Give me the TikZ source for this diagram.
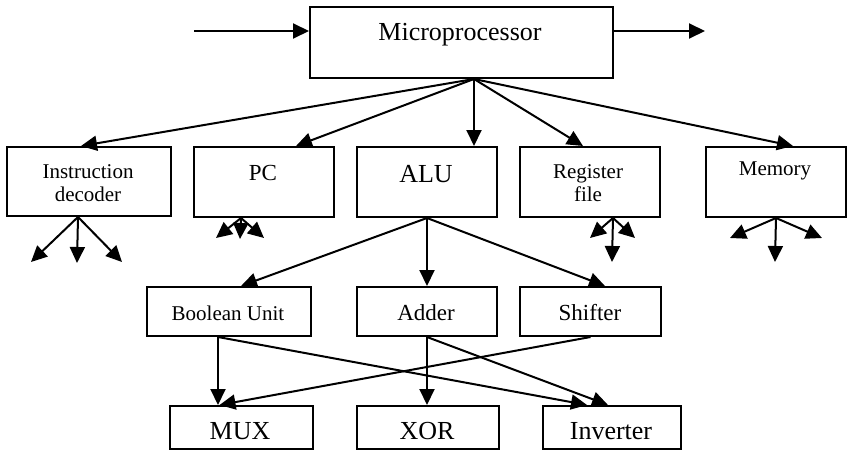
\documentclass[tikz,border=0pt]{standalone}
\usepackage{fontspec}
\setmainfont{Liberation Serif}
\usetikzlibrary{arrows.meta}
\begin{document}
\begin{tikzpicture}[x=1pt,y=-1pt,
  box/.style={draw, line width=2pt, inner sep=0pt, anchor=north west},
  lbl/.style={align=center, inner sep=0pt},
  big/.style={font=\fontsize{26}{29}\selectfont},
  mid/.style={font=\fontsize{23}{26}\selectfont},
  sml/.style={font=\fontsize{21}{23}\selectfont},
  arr/.style={line width=2pt, -{Triangle[length=16pt,width=15pt]}}
]
\useasboundingbox (0,0) rectangle (847,450);
% boxes
\node[box, minimum width=303pt, minimum height=71pt] (mp) at (309,6) {};
\node[box, minimum width=164pt, minimum height=69pt] (id) at (6,146) {};
\node[box, minimum width=140pt, minimum height=70pt] (pc) at (193,146) {};
\node[box, minimum width=140pt, minimum height=70pt] (alu) at (356,146) {};
\node[box, minimum width=140pt, minimum height=70pt] (rf) at (519,146) {};
\node[box, minimum width=140pt, minimum height=70pt] (mem) at (705,146) {};
\node[box, minimum width=164pt, minimum height=49pt] (bu) at (146,286) {};
\node[box, minimum width=140pt, minimum height=49pt] (ad) at (356,286) {};
\node[box, minimum width=141pt, minimum height=49pt] (sh) at (519,286) {};
\node[box, minimum width=143pt, minimum height=43pt] (mux) at (169,405) {};
\node[box, minimum width=142pt, minimum height=43pt] (xor) at (356,405) {};
\node[box, minimum width=138pt, minimum height=43pt] (inv) at (542,405) {};
% labels
\node[lbl, big] (tmp) at (460,35) {Microprocessor};
\node[lbl, sml] (tid) at (88,183) {Instruction\\decoder};
\node[lbl, mid] (tpc) at (263,173) {PC};
\node[lbl, big] (talu) at (426,174) {ALU};
\node[lbl, sml] (trf) at (588,183) {Register\\file};
\node[lbl, sml] (tmem) at (775,171) {Memory};
\node[lbl, sml] (tbu) at (228,313) {Boolean Unit};
\node[lbl, mid] (tad) at (426,313) {Adder};
\node[lbl, mid] (tsh) at (590,313) {Shifter};
\node[lbl, big] (tmux) at (240,431) {MUX};
\node[lbl, big] (txor) at (427,431) {XOR};
\node[lbl, big] (tinv) at (611,431) {Inverter};
% free ends
\coordinate (inL) at (194,31);
\coordinate (outR) at (705,31);
\coordinate (id1) at (31,262);
\coordinate (id2) at (77,263);
\coordinate (id3) at (122,262);
\coordinate (pc1) at (216,238);
\coordinate (pc2) at (240,239);
\coordinate (pc3) at (264,238);
\coordinate (rf1) at (590,238);
\coordinate (rf2) at (612,262);
\coordinate (rf3) at (635,238);
\coordinate (me1) at (730,238);
\coordinate (me2) at (775,262);
\coordinate (me3) at (822,238);
% input/output
\draw[arr] (inL) -- (inL -| mp.west);
\draw[arr] (mp.east |- outR) -- (outR);
% microprocessor fan-out
\coordinate (mpo) at ([xshift=12.5pt]mp.south);
\draw[arr] (mpo) -- ([xshift=-8pt]id.north);
\draw[arr] (mpo) -- ([xshift=32pt]pc.north);
\draw[arr] (mpo) -- (mpo |- alu.north);
\draw[arr] (mpo) -- ([xshift=-7pt]rf.north);
\draw[arr] (mpo) -- ([xshift=17pt]mem.north);
% ALU fan-out
\draw[arr] (alu.south) -- ([xshift=12pt]bu.north);
\draw[arr] (alu.south) -- (ad.north);
\draw[arr] (alu.south) -- ([xshift=14.5pt]sh.north);
% row 3 to row 4
\draw[arr] ([xshift=-11pt]bu.south) -- ([xshift=-23.5pt]mux.north);
\draw[arr] ([xshift=-11pt]bu.south) -- ([xshift=-25pt]inv.north);
\draw[arr] (ad.south) -- (ad.south |- xor.north);
\draw[arr] (ad.south) -- ([xshift=-4pt]inv.north);
\draw[arr] (sh.south) -- ([xshift=-22pt]mux.north);
% small fan-outs
\coordinate (ido) at ([xshift=-11pt]id.south);
\draw[arr] (ido) -- (id1);
\draw[arr] (ido) -- (id2);
\draw[arr] (ido) -- (id3);
\coordinate (pco) at ([xshift=-23pt]pc.south);
\draw[arr] (pco) -- (pc1);
\draw[arr] (pco) -- (pc2);
\draw[arr] (pco) -- (pc3);
\coordinate (rfo) at ([xshift=23pt]rf.south);
\draw[arr] (rfo) -- (rf1);
\draw[arr] (rfo) -- (rf2);
\draw[arr] (rfo) -- (rf3);
\coordinate (meo) at (mem.south);
\draw[arr] (meo) -- (me1);
\draw[arr] (meo) -- (me2);
\draw[arr] (meo) -- (me3);
\end{tikzpicture}
\end{document}
